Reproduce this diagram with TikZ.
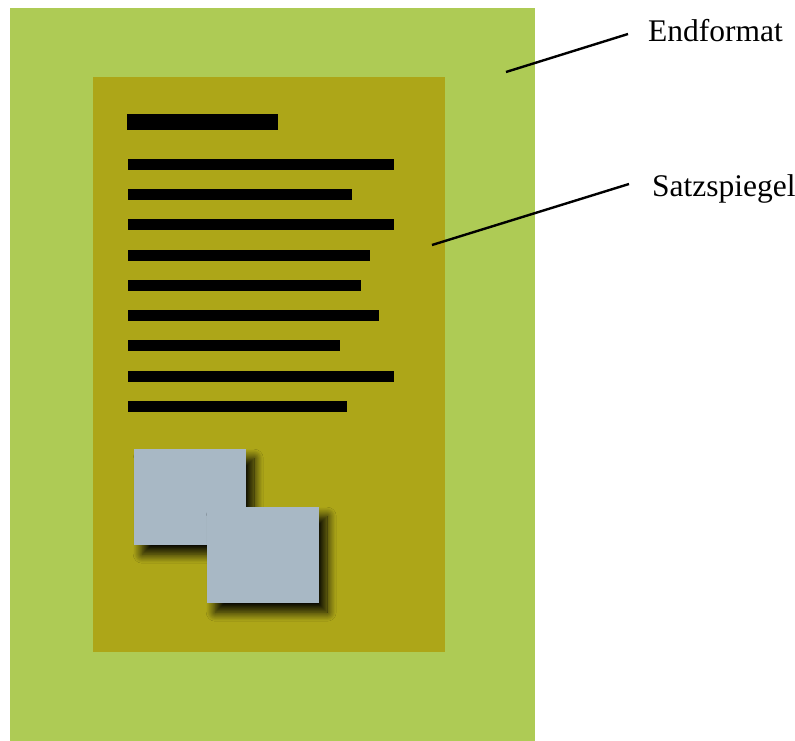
\documentclass[tikz,border=0pt]{standalone}
\usepackage{fontspec}
\setmainfont{Liberation Serif}
\usetikzlibrary{shadows.blur}
\definecolor{pagegreen}{RGB}{174,203,85}
\definecolor{typeolive}{RGB}{173,166,24}
\definecolor{picgray}{RGB}{168,184,197}
\tikzset{
  area/.style={draw=none, rectangle, inner sep=0pt, anchor=north west},
  textbar/.style={area, fill=black, minimum height=11pt},
  titlebar/.style={area, fill=black, minimum height=16pt},
  picbox/.style={area, fill=picgray, minimum width=112pt, minimum height=96pt,
    blur shadow={shadow xshift=8pt, shadow yshift=-9pt, shadow blur radius=9pt, shadow blur steps=16, shadow opacity=95}},
  lbl/.style={inner sep=0pt, anchor=base west, font=\fontsize{31.5}{36}\selectfont},
  pointer/.style={line width=2.4pt, black}
}
\begin{document}
\begin{tikzpicture}[x=1pt,y=-1pt]
\useasboundingbox (0,0) rectangle (795,741);
\node[area, fill=pagegreen, minimum width=525pt, minimum height=733pt] (page) at (10,8) {};
\node[area, fill=typeolive, minimum width=352pt, minimum height=575pt] (satz) at (93,77) {};
\node[titlebar, minimum width=151pt] (title) at (127,114) {};
\foreach \y/\r [count=\i] in {164/394,194.4/352,224.7/394,254.9/370,285.1/361,315.4/379,345.6/340,375.8/394,406/347}{
  \node[textbar, minimum width={\r-128}] (line\i) at (128,\y-5.5) {};
}
\node[picbox] (picA) at (134,449) {};
\node[picbox] (picB) at (207,507) {};
\node[lbl] (endf) at (648,42) {Endformat};
\node[lbl] (satzl) at (652,196) {Satzspiegel};
\coordinate (endfA) at (506,72);
\coordinate (endfB) at (628,34);
\coordinate (satzA) at (432,245);
\coordinate (satzB) at (629,184);
\draw[pointer] (endfA) -- (endfB);
\draw[pointer] (satzA) -- (satzB);
\end{tikzpicture}
\end{document}
